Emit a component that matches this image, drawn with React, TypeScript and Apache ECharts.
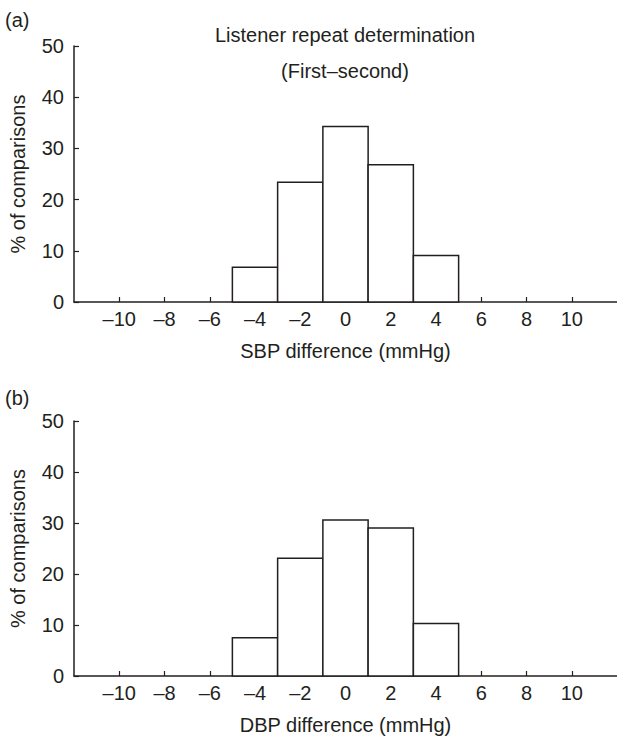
import React, { useEffect, useRef } from "react";
import * as echarts from "echarts";

const binCenters = [-4, -2, 0, 2, 4];
const binWidth = 2;
const sbpPercent = [6.8, 23.4, 34.3, 26.8, 9.1];
const dbpPercent = [7.5, 23.1, 30.6, 29.0, 10.3];
const xTicks = [-10, -8, -6, -4, -2, 0, 2, 4, 6, 8, 10];
const panelLabels = ["(a)", "(b)"];
const titleLines = ["Listener repeat determination", "(First\u2013second)"];
const xNames = ["SBP difference (mmHg)", "DBP difference (mmHg)"];
const yName = "% of comparisons";

const INK = "#231f20";
const FONT = "Liberation Sans, Arial, Helvetica, sans-serif";
const FS = 20;

export default function App() {
  const ref = useRef<HTMLDivElement>(null);
  useEffect(() => {
    document.body.style.margin = "0";
    const chart = echarts.init(ref.current!, null, { renderer: "svg" });
    const grids = [
      { left: 72, top: 46, width: 546, height: 256 },
      { left: 72, top: 421, width: 546, height: 255 },
    ];
    const xAxes = grids.map((_, i) => ({
      type: "value",
      gridIndex: i,
      min: -12,
      max: 12,
      interval: 2,
      name: xNames[i],
      nameLocation: "middle",
      nameGap: 39,
      nameTextStyle: { color: INK, fontSize: FS, fontFamily: FONT },
      splitLine: { show: false },
      axisLine: { onZero: false, lineStyle: { color: INK, width: 1.5 } },
      axisTick: { inside: true, length: 5, customValues: xTicks, lineStyle: { color: INK, width: 1.2 } },
      axisLabel: {
        customValues: xTicks,
        margin: 7,
        color: INK,
        fontSize: FS,
        fontFamily: FONT,
        formatter: (v: number) => (v < 0 ? "\u2013" + Math.abs(v) : String(v)),
      },
    }));
    const yAxes = grids.map((_, i) => ({
      type: "value",
      gridIndex: i,
      min: 0,
      max: 50,
      interval: 10,
      name: yName,
      nameLocation: "middle",
      nameGap: 46,
      nameTextStyle: { color: INK, fontSize: FS, fontFamily: FONT },
      splitLine: { show: false },
      axisLine: { show: true, onZero: false, lineStyle: { color: INK, width: 1.5 } },
      axisTick: { show: true, inside: true, length: 5, lineStyle: { color: INK, width: 1.2 } },
      axisLabel: { margin: 10, color: INK, fontSize: FS, fontFamily: FONT },
    }));
    const makeSeries = (vals: number[], i: number) => ({
      type: "custom",
      xAxisIndex: i,
      yAxisIndex: i,
      data: binCenters.map((c, k) => [c, vals[k]]),
      renderItem: (_params: any, api: any) => {
        const c = api.value(0);
        const v = api.value(1);
        const p0 = api.coord([c - binWidth / 2, v]);
        const p1 = api.coord([c + binWidth / 2, 0]);
        return {
          type: "rect",
          shape: { x: p0[0], y: p0[1], width: p1[0] - p0[0], height: p1[1] - p0[1] },
          style: { fill: "#ffffff", stroke: INK, lineWidth: 1.5 },
        };
      },
    });
    const txt = (text: string, x: number, y: number, align: string) => ({
      type: "text",
      x,
      y,
      style: { text, fill: INK, fontSize: FS, fontFamily: FONT, align, verticalAlign: "middle" },
    });
    chart.setOption({
      animation: false,
      backgroundColor: "#ffffff",
      grid: grids,
      xAxis: xAxes,
      yAxis: yAxes,
      series: [makeSeries(sbpPercent, 0), makeSeries(dbpPercent, 1)],
      graphic: [
        txt(panelLabels[0], 5, 20, "left"),
        txt(panelLabels[1], 5, 398, "left"),
        txt(titleLines[0], 345, 35, "center"),
        txt(titleLines[1], 345, 71, "center"),
      ],
    });
    return () => chart.dispose();
  }, []);
  return <div ref={ref} style={{ width: 617, height: 736 }} />;
}
